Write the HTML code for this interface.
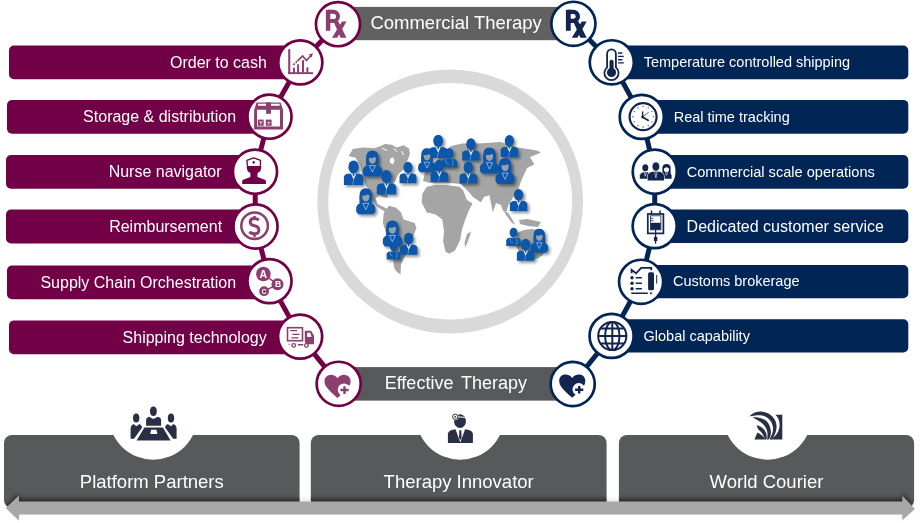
<!DOCTYPE html><html><head><meta charset="utf-8"><style>html,body{margin:0;padding:0;background:#fff;width:921px;height:523px;overflow:hidden}svg{display:block;will-change:transform}text{font-family:"Liberation Sans",sans-serif}</style></head><body>
<svg width="921" height="523" viewBox="0 0 921 523">
<defs><linearGradient id="shd" x1="0" y1="0" x2="0" y2="1"><stop offset="0" stop-color="#58595b" stop-opacity="0"/><stop offset="1" stop-color="#2e2e30" stop-opacity="1"/></linearGradient></defs>
<path fill-rule="evenodd" fill="#d9d9d9" d="M317.3,201.45 A132.9,131.95 0 1 0 583.1,201.45 A132.9,131.95 0 1 0 317.3,201.45 Z M328.2,201.3 A122,118.2 0 1 0 572.2,201.3 A122,118.2 0 1 0 328.2,201.3 Z"/>
<defs><filter id="psh" x="-50%" y="-50%" width="200%" height="200%"><feGaussianBlur in="SourceAlpha" stdDeviation="1.4"/><feOffset dx="1.8" dy="2.2" result="b"/><feComponentTransfer><feFuncA type="linear" slope="0.45"/></feComponentTransfer><feMerge><feMergeNode/><feMergeNode in="SourceGraphic"/></feMerge></filter>
<g id="man"><ellipse cx="0" cy="0" rx="5.2" ry="6.5" fill="#0757a9"/><path d="M-9.7,18 V10.5 Q-9.5,7.6 -6,6.9 H6 Q9.5,7.6 9.7,10.5 V18 Z" fill="#0757a9"/><path d="M-2.6,6.9 L0,12.8 L2.6,6.9 L1.3,6.9 L0,9.5 L-1.3,6.9 Z" fill="#fff" fill-opacity="0.9"/><path d="M0,12.8 L-1,18" fill="none" stroke="#fff" stroke-width="0.5" stroke-opacity="0.7"/></g>
<g id="woman"><path d="M-6.3,6.2 Q-6.6,1 -6.2,-2.8 Q-5.6,-8.9 0,-8.9 Q5.6,-8.9 6.2,-2.8 Q6.6,1 6.3,6.2 Z" fill="#0757a9"/><path d="M-3.6,-1.6 Q-3.7,4.2 0,4.4 Q3.7,4.2 3.6,-1.6 Q1.5,-3.2 1.2,-2 Q-1,-1.2 -3.6,-1.6 Z" fill="#9c9fa6"/><path d="M-7.6,17.1 L-9.6,14.2 V10.8 Q-9.3,7.4 -5.2,6 H5.2 Q9.3,7.4 9.6,10.8 V14.2 L7.6,17.1 Z" fill="#0757a9"/><path d="M-3,6.2 H3 L0,12.6 Z" fill="none" stroke="#fff" stroke-width="0.6" stroke-opacity="0.85"/></g>
<g id="doc"><ellipse cx="0" cy="0" rx="5.2" ry="6.5" fill="#0757a9"/><path d="M-9.7,18 V10.5 Q-9.5,7.6 -6,6.9 H6 Q9.5,7.6 9.7,10.5 V18 Z" fill="#0757a9"/><path d="M-4.5,7.5 Q-5.5,13 -1,13.5 M4.5,7.5 V13 Q4.5,16 3,16" fill="none" stroke="#8fb0d8" stroke-width="0.8"/></g></defs>
<g fill="#a5a5a5">
<path d="M348.6,156 L352.9,149.1 L362.4,147.4 L374.4,148.2 L381.3,145.7 L384.8,143.9 L391.7,144.8 L396.8,147.4 L403.7,145.2 L409,148.5 L410,153.4 L408,159.4 L405.4,164.6 L407.5,168 L402.5,170.5 L398,174.5 L395.1,181.8 L389.9,188.7 L386.5,193.9 L388.2,197.5 L385,197.5 L379.6,195.6 L375.5,198.5 L377.9,204.2 L384.8,207.6 L391,212.5 L389,213.5 L383,210.5 L376,206 L372,200 L371,193.9 L365.8,185.3 L362.4,176.7 L360.7,166.3 L355.5,157.7 Z"/>
<path d="M383.8,212.5 L388.9,205.7 L395.8,207.4 L401,212.5 L403.6,219.4 L414.7,222.9 L416.5,228 L413,236.6 L409.6,247 L404.4,257.3 L401,264.2 L400.5,274.5 L396,271 L394.1,267.6 L392.4,253.8 L387.2,236.6 L382.9,222.9 Z"/>
<path d="M422.5,193.6 L426.8,186.7 L435.4,185 L445.7,185 L459.5,186.7 L463,190 L467,200 L472.5,203.5 L469,210 L465.3,219.4 L461.9,229.7 L460.2,240 L455,250.4 L449.2,253.8 L445.7,252 L443.1,241.8 L444,231.5 L442.3,219.4 L435.4,214.3 L426.8,212.5 L421.6,202.2 Z"/>
<path d="M471.3,231.5 L468,241 L465.3,247.5 L464.5,243 L467,234 Z"/>
<path d="M423,181 L425,172 L430,167 L437,160 L444,152 L451,146 L462,143.5 L478.4,143.5 L500.8,142 L518,147.5 L537,150.5 L541,152.5 L535,155 L530,157 L534.4,164.6 L527,168 L521.5,180 L518,190 L512,199 L508,206 L506.8,211 L503,211 L501,205 L496,203 L492.9,212.5 L489.4,195.3 L484,197 L480.8,202.2 L473,197 L468.8,191.9 L461,184 L445,182.5 L430,183 Z"/>
<path d="M503,209 L509,214 L515.2,224.6 L512,223 L506,215 Z"/>
<path d="M519,220 L527,219 L541,222 L538,227 L528,226 L520,224 Z"/>
<path d="M517,233 L524,230 L532,229 L540,230 L545,234 L546,245 L543,255 L538,258.5 L530,259 L523.8,260.7 L520,254 L515,244 Z"/>
</g>
<path d="M390.5,158 L393.5,157.5 L394.5,161 L392.5,164.5 L389.5,162 Z" fill="#fff"/>
<path d="M382,148 L387,150.5 M394,148.5 L397,152 M401.5,151 L403.5,155" stroke="#fff" stroke-width="1" fill="none"/>
<g filter="url(#psh)">
<use href="#man" transform="translate(353.6,166.9) scale(1.0)"/>
<use href="#woman" transform="translate(372.4,159.4) scale(1.0)"/>
<use href="#man" transform="translate(386.5,176.5) scale(1.0)"/>
<use href="#man" transform="translate(408,167.5) scale(0.87)"/>
<use href="#woman" transform="translate(365.8,197.1) scale(1.0)"/>
<use href="#man" transform="translate(438.2,140.8) scale(0.95)"/>
<use href="#doc" transform="translate(449.4,153.4) scale(0.78)"/>
<use href="#woman" transform="translate(427,156.5) scale(0.92)"/>
<use href="#man" transform="translate(439.3,165.6) scale(0.9)"/>
<use href="#man" transform="translate(470.9,144.2) scale(0.9)"/>
<use href="#man" transform="translate(468.3,167.4) scale(0.9)"/>
<use href="#woman" transform="translate(489.5,156.5) scale(1.0)"/>
<use href="#man" transform="translate(509.4,140.8) scale(0.9)"/>
<use href="#woman" transform="translate(505.1,166.8) scale(1.0)"/>
<use href="#man" transform="translate(518.6,194.8) scale(0.9)"/>
<use href="#doc" transform="translate(393.6,246.5) scale(0.72)"/>
<use href="#woman" transform="translate(392.4,229.3) scale(1.0)"/>
<use href="#man" transform="translate(408.7,238.5) scale(0.9)"/>
<use href="#doc" transform="translate(513.5,232.6) scale(0.75)"/>
<use href="#woman" transform="translate(539.3,237) scale(0.92)"/>
<use href="#man" transform="translate(525.6,244.6) scale(0.9)"/>
</g>
<rect x="9" y="45.5" width="291.3" height="33.8" rx="5" fill="#710047"/>
<rect x="7" y="100" width="262.5" height="33.69999999999999" rx="5" fill="#710047"/>
<rect x="6" y="155" width="249.0" height="33.69999999999999" rx="5" fill="#710047"/>
<rect x="6" y="209.5" width="249.5" height="34.0" rx="5" fill="#710047"/>
<rect x="7" y="265.5" width="262.5" height="33.69999999999999" rx="5" fill="#710047"/>
<rect x="9" y="320.4" width="291.1" height="33.80000000000001" rx="5" fill="#710047"/>
<rect x="611.8" y="45.5" width="296.5" height="33.7" rx="5" fill="#012555"/>
<rect x="641.8" y="99.9" width="266.5" height="33.79999999999998" rx="5" fill="#012555"/>
<rect x="654.8" y="155" width="253.5" height="33.69999999999999" rx="5" fill="#012555"/>
<rect x="654.7" y="209.5" width="253.5999999999999" height="33.5" rx="5" fill="#012555"/>
<rect x="641.1" y="265" width="267.19999999999993" height="33.30000000000001" rx="5" fill="#012555"/>
<rect x="611.6" y="319.3" width="296.69999999999993" height="33.19999999999999" rx="5" fill="#012555"/>
<rect x="338" y="6.9" width="235.4" height="33.3" fill="#616161"/>
<rect x="338.7" y="367.1" width="234" height="33.5" fill="#58595b"/>
<polyline points="338.0,24.2 300.3,62.4 269.5,116.7 255.0,171.7 255.5,226.5 269.5,281.1 300.1,336.6 338.7,383.8" fill="none" stroke="#710047" stroke-width="5"/>
<polyline points="573.4,23.8 611.8,62.3 641.8,116.9 654.8,171.7 654.7,226.1 641.1,281.8 611.6,335.9 572.7,384.0" fill="none" stroke="#012555" stroke-width="5"/>
<circle cx="338.0" cy="24.2" r="22.05" fill="#fff" stroke="#710047" stroke-width="2.7"/>
<circle cx="300.3" cy="62.4" r="22.05" fill="#fff" stroke="#710047" stroke-width="2.7"/>
<circle cx="269.5" cy="116.7" r="22.05" fill="#fff" stroke="#710047" stroke-width="2.7"/>
<circle cx="255.0" cy="171.7" r="22.05" fill="#fff" stroke="#710047" stroke-width="2.7"/>
<circle cx="255.5" cy="226.5" r="22.05" fill="#fff" stroke="#710047" stroke-width="2.7"/>
<circle cx="269.5" cy="281.1" r="22.05" fill="#fff" stroke="#710047" stroke-width="2.7"/>
<circle cx="300.1" cy="336.6" r="22.05" fill="#fff" stroke="#710047" stroke-width="2.7"/>
<circle cx="338.7" cy="383.8" r="22.05" fill="#fff" stroke="#710047" stroke-width="2.7"/>
<circle cx="573.4" cy="23.8" r="22.05" fill="#fff" stroke="#012555" stroke-width="2.7"/>
<circle cx="611.8" cy="62.3" r="22.05" fill="#fff" stroke="#012555" stroke-width="2.7"/>
<circle cx="641.8" cy="116.9" r="22.05" fill="#fff" stroke="#012555" stroke-width="2.7"/>
<circle cx="654.8" cy="171.7" r="22.05" fill="#fff" stroke="#012555" stroke-width="2.7"/>
<circle cx="654.7" cy="226.1" r="22.05" fill="#fff" stroke="#012555" stroke-width="2.7"/>
<circle cx="641.1" cy="281.8" r="22.05" fill="#fff" stroke="#012555" stroke-width="2.7"/>
<circle cx="611.6" cy="335.9" r="22.05" fill="#fff" stroke="#012555" stroke-width="2.7"/>
<circle cx="572.7" cy="384.0" r="22.05" fill="#fff" stroke="#012555" stroke-width="2.7"/>
<rect x="325.9" y="9.8" width="4.4" height="21" fill="#8a3f6e"/><path d="M327.9,11.8 H333.4 A4.6,4.6 0 0 1 333.4,21.0 H327.9" fill="none" stroke="#8a3f6e" stroke-width="4.0"/><path d="M333.4,21.3 L338.2,21.3 L346.5,37.7 L340.59999999999997,37.7 Z" fill="#8a3f6e"/><path d="M342.0,21.5 L346.5,21.5 L337.2,37.7 L332.0,37.7 Z" fill="#8a3f6e"/>
<rect x="565.9" y="9.8" width="4.800000000000001" height="21" fill="#13244e"/><path d="M567.9,11.950000000000001 H573.4 A4.449999999999999,4.449999999999999 0 0 1 573.4,20.85 H567.9" fill="none" stroke="#13244e" stroke-width="4.3"/><path d="M573.1999999999999,21.3 L578.4,21.3 L586.7,37.7 L580.4,37.7 Z" fill="#13244e"/><path d="M581.8,21.5 L586.7,21.5 L577.4,37.7 L571.8,37.7 Z" fill="#13244e"/>
<g fill="#8a3f6e" stroke="none"><rect x="288.2" y="49.2" width="2.1" height="24.7"/><rect x="288.2" y="72.2" width="24.8" height="1.9"/><rect x="293" y="67.7" width="1.9" height="5"/><rect x="297.1" y="64.3" width="2" height="8.5"/><rect x="302" y="60.2" width="2" height="12.5"/><rect x="306.4" y="67.4" width="2" height="5.3"/></g><path d="M292.7,65.7 L302.6,56 L306.4,60.5 L311.5,55" fill="none" stroke="#8a3f6e" stroke-width="1.7" stroke-dasharray="30 0"/><path d="M292.7,65.7 L297.5,61" fill="none" stroke="#fff" stroke-width="2" stroke-dasharray="1.2 1.8"/><path d="M313,53.2 L308.8,54.6 L311.6,57.4 Z" fill="#8a3f6e"/>
<g fill="none" stroke="#8a3f6e"><path d="M255.6,109.5 V128.1 H281.5 V109.5" stroke-width="3"/></g><path d="M254.1,109.8 L256.6,102.4 H280.5 L283,109.8 Z" fill="#8a3f6e"/><rect x="258" y="103.8" width="8.5" height="2" fill="#fff" transform="skewX(-10)" transform-origin="262 105"/><rect x="271" y="103.8" width="8.7" height="2" fill="#fff" transform="skewX(10)" transform-origin="275 105"/><rect x="266.1" y="102.4" width="4.9" height="11.4" fill="#8a3f6e"/><rect x="257.9" y="119.6" width="5.8" height="6.2" fill="#8a3f6e"/><rect x="265.8" y="119.6" width="5.8" height="6.2" fill="#8a3f6e"/><path d="M259.5,121 L260.8,123 L262.1,121 M260.8,123 V124.6" stroke="#fff" stroke-width="0.8" fill="none"/><path d="M267.2,123 Q268.7,120.8 270.2,123 M268.7,123 V124.6" stroke="#fff" stroke-width="0.8" fill="none"/>
<path d="M242.2,184 V180.8 Q243,179.6 244.5,179.3 L250.4,176.9 V172.9 Q247.8,172.3 247.2,170 L246.6,165.8 H261.4 L260.8,170 Q260.2,172.3 257.5,172.9 V176.9 L263.5,179.3 Q265.1,179.6 265.9,180.8 V184 Z" fill="#710047"/><path d="M247.4,165.8 L246.9,160.4 L253.7,157.9 L260.6,160.3 L260.3,165.8" fill="#fff" stroke="#710047" stroke-width="1.3" stroke-linejoin="round"/><path d="M253.7,160.7 L255.3,162.3 L253.7,163.9 L252.1,162.3 Z" fill="#710047"/>
<circle cx="254.6" cy="225.7" r="13.3" fill="none" stroke="#8a3f6e" stroke-width="2.5"/><path d="M258.8,220.2 Q257,218.6 254.3,218.6 Q250.2,218.6 250.2,221.9 Q250.2,224.8 254.5,225.8 Q258.9,226.8 258.9,230.2 Q258.9,233.7 254.5,233.7 Q251.3,233.7 249.3,231.8" fill="none" stroke="#8a3f6e" stroke-width="3"/><path d="M254.5,215.9 V219 M254.5,233 V237.2" stroke="#8a3f6e" stroke-width="2.4"/>
<path d="M263.4,274 L277.5,284.3 L264.1,291.2" fill="none" stroke="#8a3f6e" stroke-width="1.5"/><circle cx="263.4" cy="274" r="7.3" fill="#8a3f6e"/><circle cx="277.5" cy="284.3" r="6" fill="#8a3f6e"/><circle cx="264.1" cy="291.2" r="4.9" fill="#8a3f6e"/><text x="263.4" y="277.6" font-size="10.5" font-weight="bold" fill="#fff" text-anchor="middle">A</text><text x="278" y="287.4" font-size="8.5" font-weight="bold" fill="#fff" text-anchor="middle">B</text><text x="264.1" y="293.6" font-size="6.5" font-weight="bold" fill="#fff" text-anchor="middle">C</text>
<rect x="287.5" y="327.7" width="15" height="13" fill="none" stroke="#8a3f6e" stroke-width="1.6"/><path d="M290.3,330.7 H297.1 M292.3,334.3 H299.5 M291.3,337.8 H298.5" stroke="#8a3f6e" stroke-width="1.2"/><path d="M304.8,330.7 H311 L314,335.5 V344.3 H304.8 Z" fill="#8a3f6e"/><path d="M307.1,332.8 H310.2 L311.6,337 H307.1 Z" fill="#fff"/><rect x="286.8" y="342" width="18.5" height="1.8" fill="#fff"/><circle cx="293.7" cy="345.4" r="1.8" fill="#fff" stroke="#8a3f6e" stroke-width="1.3"/><circle cx="306.4" cy="345.4" r="1.8" fill="#fff" stroke="#8a3f6e" stroke-width="1.3"/><rect x="297.8" y="344" width="5.5" height="1.5" fill="#8a3f6e"/><rect x="288.7" y="343.6" width="0.9" height="1.6" fill="#8a3f6e"/>
<g transform="translate(0,0)"><path d="M337.5,378.3 C335.3,375.2 332.2,374.6 329.8,374.9 C326.3,375.4 324.4,378.3 324.5,381.6 C324.7,386.2 328.5,390.2 337.5,398 C341,395 344,392.3 346.5,389.6 C349.3,386.6 350.8,383.8 350.6,380.8 C350.4,377.6 348.2,375.2 345,374.9 C342.4,374.7 339.6,375.5 337.5,378.3 Z" fill="#8a3f6e"/><circle cx="344.1" cy="389.7" r="6.3" fill="#fff"/><path d="M340.4,390 H348.6 M344.5,386.2 V393.9" stroke="#8a3f6e" stroke-width="2.4"/></g>
<g transform="translate(234.7,-0.3)"><path d="M337.5,378.3 C335.3,375.2 332.2,374.6 329.8,374.9 C326.3,375.4 324.4,378.3 324.5,381.6 C324.7,386.2 328.5,390.2 337.5,398 C341,395 344,392.3 346.5,389.6 C349.3,386.6 350.8,383.8 350.6,380.8 C350.4,377.6 348.2,375.2 345,374.9 C342.4,374.7 339.6,375.5 337.5,378.3 Z" fill="#13244e"/><circle cx="344.1" cy="389.7" r="6.3" fill="#fff"/><path d="M340.4,390 H348.6 M344.5,386.2 V393.9" stroke="#13244e" stroke-width="2.4"/></g>
<path d="M607.1,67.4 V53.7 A4.4,4.4 0 0 1 615.9,53.7 V67.4 A7.1,7.1 0 1 1 607.1,67.4 Z" fill="none" stroke="#13244e" stroke-width="1.8"/><rect x="609.5" y="59.8" width="4.1" height="10" rx="2" fill="#13244e"/><circle cx="611.5" cy="72.4" r="4.6" fill="#13244e"/><path d="M618,53 H622.4 M618,56.4 H623.8 M618,59.7 H622.4 M618,62.9 H623.8" stroke="#13244e" stroke-width="1.4"/>
<circle cx="643.1" cy="116.7" r="13.5" fill="none" stroke="#13244e" stroke-width="2.2"/><g fill="#13244e"><circle cx="643.10" cy="106.50" r="0.6"/><circle cx="648.20" cy="107.87" r="0.6"/><circle cx="651.93" cy="111.60" r="0.6"/><circle cx="653.30" cy="116.70" r="0.6"/><circle cx="651.93" cy="121.80" r="0.6"/><circle cx="648.20" cy="125.53" r="0.6"/><circle cx="643.10" cy="126.90" r="0.6"/><circle cx="638.00" cy="125.53" r="0.6"/><circle cx="634.27" cy="121.80" r="0.6"/><circle cx="632.90" cy="116.70" r="0.6"/><circle cx="634.27" cy="111.60" r="0.6"/><circle cx="638.00" cy="107.87" r="0.6"/></g><path d="M642.6,117 V111.4" stroke="#13244e" stroke-width="1.3"/><path d="M642.6,117 L648.8,120.7" stroke="#13244e" stroke-width="1.6"/><path d="M642.6,117 L648.8,112.1" stroke="#13244e" stroke-width="0.7"/><circle cx="642.6" cy="117" r="1.4" fill="#13244e"/>
<g fill="#13244e"><ellipse cx="645.3" cy="167.8" rx="3" ry="3.5"/><path d="M639.8,178.8 V175.5 Q640.2,173 643,172.3 H647.6 Q650.6,173 651,175.5 V178.8 Z"/><path d="M662.4,173 V167.6 Q662.6,163.9 666.5,163.9 Q670.4,163.9 670.6,167.6 V173 Z"/><path d="M660.6,178.8 V175.5 Q661,173 663.8,172.3 H668.8 Q671.4,173 671.6,175.5 V178.8 Z"/></g><ellipse cx="666.5" cy="169.6" rx="2.5" ry="2.6" fill="#fff"/><path d="M663.8,168.3 Q666.5,166 669.2,168.3 V166.5 H663.8 Z" fill="#13244e"/><path d="M644.2,172.4 L645.3,176.3 L646.4,172.4 M665.4,172.4 L666.5,175.3 L667.6,172.4" fill="none" stroke="#fff" stroke-width="0.6"/><path d="M647.6,180.5 V176 Q647.9,173 651.5,172 L655.9,171.6 L660.3,172 Q663.7,173 664,176 V180.5 Z" fill="#13244e" stroke="#fff" stroke-width="1.1"/><path d="M647.6,180.5 V176 Q647.9,173 651.5,172 L655.9,171.6 L660.3,172 Q663.7,173 664,176 V180.5 Z" fill="#13244e"/><ellipse cx="655.9" cy="166.6" rx="3.8" ry="4.6" fill="#13244e" stroke="#fff" stroke-width="0.6"/><path d="M654.7,172 L655.9,177.8 L657.1,172" fill="none" stroke="#fff" stroke-width="0.6"/>
<rect x="647.8" y="214" width="15.6" height="19.4" fill="none" stroke="#13244e" stroke-width="1.7"/><path d="M651.5,210.4 V214 M660,210.4 V214" stroke="#13244e" stroke-width="1.5"/><rect x="650.6" y="215.8" width="10.3" height="14" fill="none" stroke="#13244e" stroke-width="0.8"/><rect x="650.8" y="222.8" width="9.9" height="6.9" fill="#13244e"/><path d="M650.8,218.3 H653.5 M650.8,220.7 H653.5" stroke="#13244e" stroke-width="0.8"/><path d="M655.6,229.7 V243.8" stroke="#13244e" stroke-width="1.2"/><rect x="653.9" y="236.9" width="3.4" height="4.2" fill="#13244e"/>
<path d="M631.6,273.3 V269.9 L636.1,273.3 L641.2,267.8 H651.2 V270.2" fill="none" stroke="#13244e" stroke-width="1.8"/><g fill="#13244e"><circle cx="632" cy="277.8" r="1.7"/><circle cx="632" cy="283.3" r="1.7"/><circle cx="632" cy="288.8" r="1.7"/></g><path d="M635.7,277.8 H641.9 M635.7,283.3 H641.9 M635.7,288.8 H641.9 M631.3,293.3 H647.8" stroke="#13244e" stroke-width="1.5"/><rect x="648.1" y="272.3" width="5.9" height="18" rx="1.5" fill="#13244e"/><path d="M649.4,292.6 H652.6 L651,294.8 Z" fill="#13244e"/><path d="M656.7,275 V283.6" stroke="#13244e" stroke-width="1"/>
<g fill="none" stroke="#13244e" stroke-width="2"><circle cx="612.3" cy="336.0" r="14.1"/><path d="M612.3,321.9 V350.1"/><ellipse cx="612.3" cy="336.0" rx="7.2" ry="14.1"/><path d="M598.1999999999999,336.0 H626.4"/><path d="M600.8,328.6 H623.8 M600.8,343.4 H623.8"/></g>
<g fill="#2b2f45"><ellipse cx="153.4" cy="411.2" rx="3.4" ry="4.7"/><path d="M146.1,425.8 V419.5 Q146.5,417.4 149,416.8 L153.4,419 L157.8,416.8 Q160.7,417.4 161.1,419.5 V425.8 Z"/><ellipse cx="136.2" cy="418.1" rx="3.2" ry="4.5"/><path d="M130.6,438.7 V428 Q131,425 133.5,424.1 L136.4,426.2 L139.4,424.1 Q141.6,425 142.2,427.5 L134,438.7 Z"/><ellipse cx="171" cy="418.1" rx="3.2" ry="4.5"/><path d="M176.6,438.7 V428 Q176.2,425 173.7,424.1 L170.8,426.2 L167.8,424.1 Q165.6,425 165,427.5 L173.2,438.7 Z"/><path d="M144.4,427.5 H162.9 L170.6,440.4 H136.6 Z"/></g><path d="M151.2,429.7 H156.4 L157.4,434 H150.2 Z" fill="#fff"/>
<ellipse cx="460" cy="421.1" rx="6" ry="6.9" fill="#2b2f45"/><path d="M455,416.5 L466.5,417.5" stroke="#fff" stroke-width="1.1"/><circle cx="455.2" cy="416.8" r="3.4" fill="#fff"/><circle cx="455.2" cy="416.8" r="2.6" fill="none" stroke="#2b2f45" stroke-width="1.0"/><circle cx="455.2" cy="416.8" r="0.9" fill="#2b2f45"/><path d="M447.9,443 V433.5 Q448.3,430.9 451.5,429.9 L455.5,429.2 L460.3,442.5 L465.1,429.2 L469.2,429.9 Q472.5,430.9 472.9,433.5 V443 Z" fill="#2b2f45"/><path d="M459.3,430.2 H461.3 L461.6,438 L460.3,440 L459,438 Z" fill="#2b2f45"/>
<g fill="#2b2f45"><path d="M749.3,416.4 C753,412.5 757,411.5 761,411.6 C770,412 776.8,418.5 776.6,427 C776.4,432 774.5,436 771.8,439.4 L769.4,439.4 C771.8,435.5 773.2,432 773.1,428.5 C772.8,420.5 766.5,415.4 760,415.2 C756.5,415.1 752.5,415.8 749.3,416.4 Z"/><path d="M775.4,414.7 H782.3 V439.4 H771.2 C776,436 779.6,431 779.6,425 C779.6,420.5 778,417 775.4,414.7 Z"/><path d="M752.4,417.2 C757.5,417 762.5,417.8 766.2,420.8 C770,424 771.3,430 770.8,434 C770.5,436.5 769.6,438.2 768.6,439.4 L767,439.4 C767.7,436.5 767.8,433.5 767,430.8 C765.7,426 762.5,423 758.5,420.8 C756.5,419.6 754.5,418.5 752.4,417.2 Z"/><path d="M756.6,425.2 C760.5,425.8 764.2,428.6 765.8,432.3 C766.8,434.6 767,437 766.5,439.4 L765,439.4 C764,435.8 762,432.8 759.5,430.6 C758.2,429.4 757.3,427.8 756.6,425.2 Z"/><path d="M754.4,439.4 L757.4,432.4 C760.8,433.8 763.5,436.4 765.3,439.4 Z"/></g>
<text x="266.9" y="67.6" font-size="16" fill="#fff" text-anchor="end">Order to cash</text>
<text x="236.1" y="122.0" font-size="16" fill="#fff" text-anchor="end">Storage &amp; distribution</text>
<text x="221.6" y="177.0" font-size="16" fill="#fff" text-anchor="end">Nurse navigator</text>
<text x="222.1" y="231.7" font-size="16" fill="#fff" text-anchor="end">Reimbursement</text>
<text x="236.1" y="287.6" font-size="16" fill="#fff" text-anchor="end">Supply Chain Orchestration</text>
<text x="266.7" y="342.5" font-size="16" fill="#fff" text-anchor="end">Shipping technology</text>
<text x="643.7" y="67.1" font-size="14.5" fill="#fff">Temperature controlled shipping</text>
<text x="673.7" y="121.6" font-size="14.5" fill="#fff">Real time tracking</text>
<text x="686.7" y="176.7" font-size="14.6" fill="#fff">Commercial scale operations</text>
<text x="686.6" y="231.5" font-size="16" fill="#fff">Dedicated customer service</text>
<text x="673.0" y="286.4" font-size="14.5" fill="#fff">Customs brokerage</text>
<text x="643.5" y="340.7" font-size="14.5" fill="#fff">Global capability</text>
<text x="370.4" y="29.2" font-size="18.5" fill="#fff">Commercial Therapy</text>
<text x="384.7" y="388.9" font-size="18" fill="#fff" word-spacing="3">Effective Therapy</text>
<defs><mask id="notch"><rect x="0" y="0" width="921" height="523" fill="#fff"/>
<circle cx="153.2" cy="415.3" r="44.4" fill="#000"/>
<circle cx="460.2" cy="415.3" r="44.4" fill="#000"/>
<circle cx="767.5" cy="415.3" r="44.4" fill="#000"/>
</mask></defs>
<g mask="url(#notch)">
<rect x="4" y="435" width="295.6" height="73.2" rx="8" fill="#58595b"/>
<rect x="310.8" y="435" width="295.8" height="73.2" rx="8" fill="#58595b"/>
<rect x="618.9" y="435" width="295.20000000000005" height="73.2" rx="8" fill="#58595b"/>
</g>
<text x="151.8" y="488.3" font-size="18.5" fill="#fff" text-anchor="middle">Platform Partners</text>
<text x="458.7" y="488.3" font-size="18.5" fill="#fff" text-anchor="middle">Therapy Innovator</text>
<text x="766.5" y="488.3" font-size="18.5" fill="#fff" text-anchor="middle">World Courier</text>
<defs><filter id="ash" x="-5%" y="-100%" width="110%" height="300%"><feGaussianBlur stdDeviation="2.6"/></filter><clipPath id="bclip">
<rect x="4" y="435" width="295.6" height="73.2" rx="8"/>
<rect x="310.8" y="435" width="295.8" height="73.2" rx="8"/>
<rect x="618.9" y="435" width="295.20000000000005" height="73.2" rx="8"/>
</clipPath></defs>
<g clip-path="url(#bclip)"><polygon points="5.8,508 18.9,495.6 18.9,501.4 902.3,501.4 902.3,495.7 915,509 902.3,520.3 902.3,514.5 18.9,514.5 18.9,520.7" fill="#000" fill-opacity="0.55" transform="translate(0,-2.2)" filter="url(#ash)"/></g>
<polygon points="5.8,508 18.9,495.6 18.9,501.4 902.3,501.4 902.3,495.7 915,509 902.3,520.3 902.3,514.5 18.9,514.5 18.9,520.7" fill="#000" fill-opacity="0.10" transform="translate(0,-2.2)" filter="url(#ash)"/>
<polygon points="5.8,508 18.9,495.6 18.9,501.4 902.3,501.4 902.3,495.7 915,509 902.3,520.3 902.3,514.5 18.9,514.5 18.9,520.7" fill="#a8a8a8"/>
</svg></body></html>
